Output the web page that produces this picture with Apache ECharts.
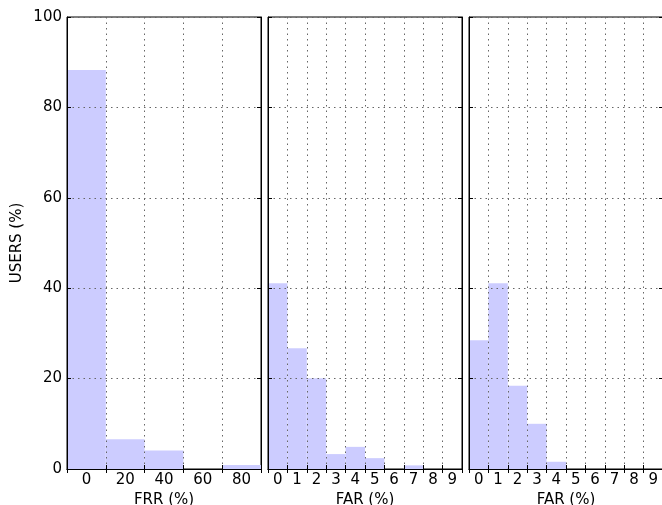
<!DOCTYPE html>
<html>
<head>
<meta charset="utf-8">
<script src="https://cdn.jsdelivr.net/npm/echarts@6/dist/echarts.min.js"></script>
<style>
  html, body { margin: 0; padding: 0; background: #fff; }
  #chart { width: 662px; height: 505px; }
</style>
</head>
<body>
<div id="chart"></div>
<script>
// Histogram bins and user shares (%)
const frrBins = ['0', '20', '40', '60', '80'];
const frrUsers = [88.3, 6.6, 4.1, 0, 0.9];

const farBins = ['0', '1', '2', '3', '4', '5', '6', '7', '8', '9'];
const farUsersA = [41.1, 26.7, 20.1, 3.3, 4.9, 2.4, 0, 0.8, 0, 0];
const farUsersB = [28.5, 41.1, 18.4, 10.0, 1.6, 0, 0, 0, 0, 0];

const yTicks = { min: 0, max: 100, interval: 20 };
const xNames = ['FRR (%)', 'FAR (%)', 'FAR (%)'];
const yName = 'USERS (%)';

const FONT = 'DejaVu Sans';
const FS = 15;
const BAR = '#ccccff';
const GRID_LINE = { show: true, lineStyle: { color: '#666', width: 1, type: [1.5, 4] } };

// the last panel's right edge sits just past the canvas
const panels = [
  { bins: frrBins, values: frrUsers, left: 67, width: 194 },
  { bins: farBins, values: farUsersA, left: 268, width: 194 },
  { bins: farBins, values: farUsersB, left: 469, width: 194 }
];

const grid = [], xAxis = [], yAxis = [], series = [];
panels.forEach((p, i) => {
  grid.push({
    left: p.left, top: 17, width: p.width, height: 452,
    outerBoundsMode: 'none', containLabel: false,
    show: true, borderColor: '#000', borderWidth: 1, backgroundColor: 'transparent'
  });
  // bottom axis: labels at bin centres, grid lines at bin edges
  xAxis.push({
    gridIndex: i, type: 'category', data: p.bins, position: 'bottom', z: 5,
    boundaryGap: true,
    name: xNames[i], nameLocation: 'middle', nameGap: 19,
    nameTextStyle: { fontFamily: FONT, fontSize: FS, color: '#000' },
    axisLine: { show: true, lineStyle: { color: '#000', width: 1 } },
    axisTick: { show: true, inside: true, length: 4, lineStyle: { color: '#000' } },
    axisLabel: { fontFamily: FONT, fontSize: FS, color: '#000', margin: 4, interval: 0 },
    splitLine: Object.assign({ interval: 0 }, GRID_LINE)
  });
  // top axis: tick marks only
  xAxis.push({
    gridIndex: i, type: 'category', data: p.bins, position: 'top', z: 5,
    boundaryGap: true,
    axisLine: { show: true, lineStyle: { color: '#000', width: 1 } },
    axisTick: { show: true, inside: true, length: 4, lineStyle: { color: '#000' } },
    axisLabel: { show: false }, splitLine: { show: false }
  });
  yAxis.push(Object.assign({
    gridIndex: i, type: 'value', position: 'left', z: 5,
    name: i === 0 ? yName : '', nameLocation: 'middle', nameGap: 42,
    nameTextStyle: { fontFamily: FONT, fontSize: FS, color: '#000' },
    axisLine: { show: true, lineStyle: { color: '#000', width: 1 } },
    axisTick: { show: true, inside: true, length: 4, lineStyle: { color: '#000' } },
    axisLabel: { show: i === 0, fontFamily: FONT, fontSize: FS, color: '#000', margin: 5 },
    splitLine: GRID_LINE
  }, yTicks));
  yAxis.push(Object.assign({
    gridIndex: i, type: 'value', position: 'right', z: 5,
    axisLine: { show: true, lineStyle: { color: '#000', width: 1 } },
    axisTick: { show: true, inside: true, length: 4, lineStyle: { color: '#000' } },
    axisLabel: { show: false }, splitLine: { show: false }
  }, yTicks));
  series.push({
    type: 'bar', xAxisIndex: i * 2, yAxisIndex: i * 2,
    data: p.values, barCategoryGap: '0%', barGap: '0%',
    itemStyle: { color: BAR }, z: 2, silent: true
  });
});

const chart = echarts.init(document.getElementById('chart'), null, { renderer: 'canvas' });
chart.setOption({ animation: false, grid, xAxis, yAxis, series });
</script>
</body>
</html>
